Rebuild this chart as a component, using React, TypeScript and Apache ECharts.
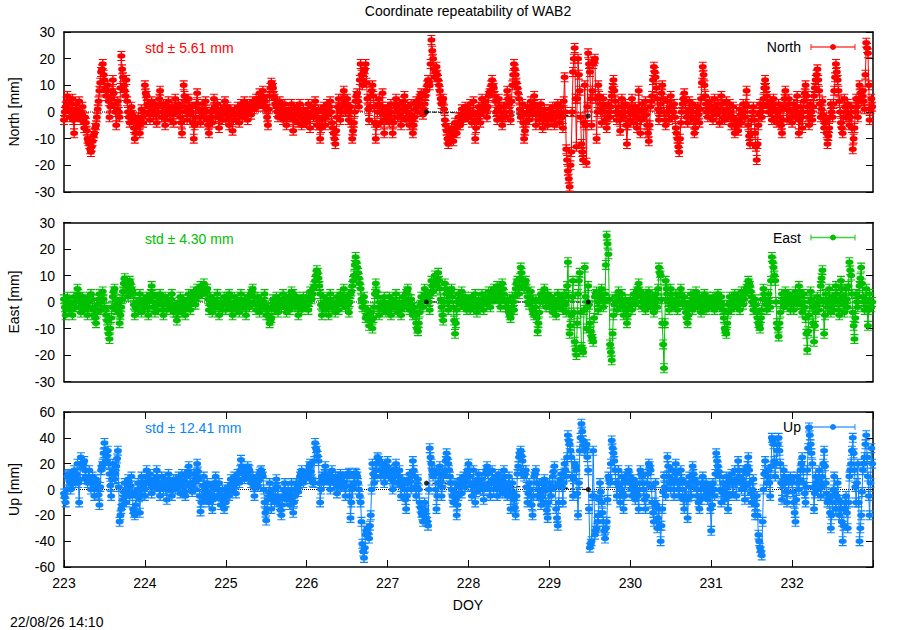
import React, { useEffect, useRef } from "react";
import * as echarts from "echarts";

const FONT = '"Liberation Sans", Arial, Helvetica, sans-serif';

const FIRST_DAY = 223;
const LAST_DAY = 233;
const SAMPLES_PER_DAY = 48;

const chartTitle = "Coordinate repeatability of WAB2";
const xTitle = "DOY";
const timestamp = "22/08/26 14:10";

// North [mm], one row per day (DOY 223..232): epochs at k/48 of the day
const northByDay: number[][] = [
  [-3, 2, 6, 4, 0, 5, -8, 3, 0, 4, -3, 2, -6, -4, -10, -12, -15, -11, -8, -5, 1, 8, 15, 18, 12, 6, 10, -2, 5, 12, 3, -5, 4, -2, 21, 13, 8, 12, 0, -4, 2, -3, -10, -6, -2, -8, 1, -4],
  [10, 6, 2, -3, 4, -1, 3, -4, 2, 8, -2, 3, -5, 1, 4, -3, 2, -4, 5, 0, 3, -2, -8, 10, 4, -3, 5, -1, 2, -10, -2, 7, 1, -4, 3, -2, 4, -3, -8, 0, -4, 5, -2, 3, -6, 1, -3, 2],
  [-3, 2, -5, 1, -7, 0, -3, 2, -4, 3, -2, 4, 0, -3, 3, -1, 4, 1, 5, 2, 7, 3, 8, 4, 1, -5, 6, 11, 9, 5, 2, -2, 4, 0, -3, 3, -5, 1, -2, 3, -7, -1, 2, -4, 3, -5, 1, -3],
  [-4, 3, -6, 2, -2, 4, -5, 1, -10, -3, 2, -5, 3, -1, 4, -4, -8, -12, -2, 5, -3, 2, 8, 0, 5, -3, 2, -10, -4, 4, 7, 2, 18, 10, 15, 18, 5, -3, 6, 10, 2, -10, 0, 5, -4, 7, -8, 1],
  [2, -4, 3, -8, 0, 5, -2, 3, -5, 1, 6, -3, 2, -5, 3, -8, -2, 4, 0, 5, 7, -1, 3, 8, 12, 10, 27, 20, 13, 17, 12, 8, 3, 5, -3, -7, -12, -10, -6, -11, -4, -8, -2, -5, 1, -3, 2, -1],
  [-2, 3, -4, 4, -10, -3, 2, -4, 5, 0, 4, -2, 6, 8, 12, 9, 4, -3, 5, 0, -5, 2, -2, 8, 3, -3, 10, 18, 14, 9, 5, -2, 3, -10, -4, 2, -3, 4, -1, 6, -5, 2, -3, 3, -6, 1, -2, -5],
  [1, -3, 2, -5, 0, 3, -4, 2, -6, 13, -14, -22, -28, -15, 15, 24, -13, 20, 8, -12, -18, 10, -19, 22, 15, -5, 18, 20, -10, 10, 3, -4, 5, 0, -6, 3, -2, 6, 12, 4, -3, 2, -7, 5, -2, 3, -12, 2],
  [-3, 5, -4, 2, -6, 8, -8, 3, -2, 4, -5, -11, 2, 6, 17, 13, 5, -3, 3, 10, 0, -5, 4, -3, 6, -2, 3, -6, -10, -15, -4, 3, 7, 0, -4, 4, -2, 3, -8, -3, 2, -4, 5, 17, 10, 3, -2, 4],
  [2, -3, 5, -1, 3, -4, 6, 0, -3, 4, -2, 3, -5, 2, -8, -3, -7, 1, -4, 3, -2, 8, -5, -12, -3, 2, -8, -18, -5, 3, -2, 5, 12, 6, 0, 4, -3, 5, 1, -4, 3, -2, -8, 2, 8, -3, 5, 0],
  [-4, 3, -2, 6, -8, 2, -6, 4, 10, 2, -5, 3, -3, 6, 12, 16, 8, -2, 4, -6, -3, -12, -6, 3, -2, 8, 18, 12, 4, -4, -8, 5, -2, 3, -5, 2, -14, -6, 5, -2, 10, 4, 8, 1, 26, 22, -3, 5],
];
// North [mm], in-between epochs at (k + 0.5)/48 of the day
const northMidByDay: number[][] = [
  [0, 4, 1, -2, 3, -3, -1, 1, -2, 0, -1, -3, -2, -7, -11, -14, -13, -9, -6, -2, 4, 11, 16, 14, 9, 8, 4, 2, 8, 7, 0, 1, 0, 9, 16, 10, 6, 4, -2, 0, -1, -6, -8, -4, -5, -3, -2, 0],
  [7, 3, -1, 0, 1, 2, -1, 0, 5, 3, 0, -2, -1, 2, 0, 0, -1, 1, 2, 1, 0, -4, 2, 6, 0, 1, 2, 0, -4, -5, 3, 3, -2, 0, 0, 1, 0, -5, -3, -2, 1, 2, 0, -2, -2, -1, 0, 4],
  [0, -2, -1, -3, -3, -1, 0, -1, 0, 1, 1, 2, -1, 0, 1, 2, 2, 3, 3, 5, 4, 6, 5, 2, -2, 1, 9, 10, 6, 3, 0, 1, 2, -1, 0, -1, -2, 0, 1, -2, -3, 1, -1, 0, -1, -2, -1, -4],
  [0, -2, -1, 0, 1, 0, -2, -5, -6, 0, -2, -1, 1, 2, 0, -6, -10, -7, 2, 1, 0, 5, 4, 3, 1, 0, -4, -7, 0, 6, 4, 12, 14, 12, 16, 11, 1, 2, 8, 6, -4, -5, 3, 0, 2, -1, -3, -2],
  [-1, 0, -3, -4, 3, 2, 1, -1, -2, 4, 2, 0, -2, -1, -3, -5, 1, 2, 3, 6, 3, 1, 6, 10, 11, 18, 23, 16, 15, 14, 10, 5, 4, 1, -5, -10, -11, -8, -9, -7, -6, -5, -4, -2, -1, 0, 1, -2],
  [0, -1, 0, -3, -6, -1, -1, 1, 2, 2, 1, 2, 7, 10, 10, 6, 0, 1, 2, -2, -2, 0, 3, 5, 0, 4, 14, 16, 11, 7, 1, 0, -4, -7, -1, 0, 1, 2, 3, 0, -1, 0, 0, -2, -3, -1, -3, -1],
  [-1, 0, -2, -2, 2, 0, -1, -2, 4, 0, -18, -25, -20, 0, 20, 5, 5, 14, -2, -15, -4, -5, 2, 18, 5, 8, 19, 5, 0, 6, 0, 1, 2, -3, -2, 0, 2, 9, 8, 0, 0, -3, -1, 2, 0, -5, -5, 0],
  [1, 0, -1, -2, 1, 0, -3, 0, 1, -1, -8, -5, 4, 12, 15, 9, 1, 0, 7, 5, -3, 0, 0, 2, 2, 0, -2, -8, -13, -10, 0, 5, 4, -2, 0, 1, 0, -3, -6, 0, -1, 1, 11, 14, 6, 0, 1, 1],
  [0, 1, 2, 1, 0, 1, 3, -2, 0, 1, 0, -1, -2, -3, -5, -5, -3, -1, 0, 0, 3, 2, -9, -8, 0, -3, -13, -12, -1, 0, 2, 9, 9, 3, 2, 0, 1, 3, -2, 0, 1, -5, -3, 5, 2, 1, 3, -2],
  [0, 1, 2, -1, -3, -2, 0, 7, 6, -2, 0, 0, 2, 9, 14, 12, 3, 1, -1, -4, -8, -9, -2, 0, 3, 13, 15, 8, 0, -6, -2, 2, 0, -1, -2, -6, -10, 0, 2, 4, 7, 6, 4, 14, 24, 10, 1, 2],
];

// East [mm]
const eastByDay: number[][] = [
  [1, -5, 2, -3, 0, -5, 2, -2, 5, 1, -4, 2, -3, 1, -5, 0, 3, -2, -5, -8, -1, 3, -3, 4, -2, -5, -10, -14, -6, 2, 5, -3, 0, -8, -2, 4, 9, 6, 2, 8, 5, 3, -5, 0, -3, 3, -4, 1],
  [-2, 2, -5, 1, 6, 0, -4, 2, -3, 3, -1, -5, 2, -3, 1, -2, 3, -4, -1, -7, -2, 2, -4, 1, -5, 0, 3, -3, 2, 4, -1, 5, 2, 6, 3, 7, 4, 5, -3, 2, -4, 1, -2, 3, -5, 0, -3, 2],
  [-3, 1, 3, -2, -5, 2, -3, 1, -4, 3, -2, 1, -5, 2, -2, 3, 5, 0, -3, 2, -4, 1, -2, 3, -5, -2, -8, -6, 1, -3, 2, -4, 1, -2, 3, -1, -4, 2, -3, 4, 3, -2, 2, -5, 1, -3, 2, -1],
  [2, -3, 4, 1, 5, 8, 12, 9, 3, -5, 2, -3, 1, -5, 3, -2, 0, -4, 2, -3, 3, -1, 5, -2, 2, -4, 3, 6, 10, 17, 13, 9, 5, -2, 2, -6, -3, -9, -4, -10, -2, 7, 2, -5, 0, -3, 2, -4],
  [-3, 2, -5, 1, -2, 3, -4, 0, -5, 2, -2, 3, 5, -3, 1, -5, -2, -8, -11, -4, 2, -2, 5, 1, 3, -3, 8, 4, 10, 6, 11, 5, -2, -7, 7, 3, -3, 2, 5, -2, -12, -3, 3, -1, 4, -2, 2, -3],
  [1, -3, 2, -2, 3, -4, 1, -2, 3, -3, 2, -1, 4, -2, 3, 5, 1, 6, 2, -2, 7, 3, -2, 1, -4, -6, 2, -3, 5, 8, 3, 13, 8, 5, 8, 2, -1, 4, -3, -5, 1, -11, -4, 3, 0, 5, -2, 3],
  [-2, 2, -4, 1, -5, 3, -2, 2, -3, 3, -4, 15, -12, -5, 8, -15, -20, 3, 11, -17, -19, 13, -10, 6, -8, -13, -15, 2, 4, -3, 2, 5, -2, 3, 25, 18, -16, -22, -5, 2, -3, 4, -2, 3, -5, 1, -8, -2],
  [1, -3, 3, -1, 4, 7, 2, -2, 3, -3, 1, 4, -2, 2, -4, 3, -2, 13, 10, -8, -25, 8, 3, -3, 5, 1, -2, 3, -3, 2, 5, -1, 2, -4, -8, -2, 3, -3, 1, 4, -2, 2, -4, 1, 3, -3, 2, -1],
  [-2, 2, -3, 1, 3, -2, 2, -3, -10, -12, -4, 2, -3, 1, 3, -2, 2, -3, 4, -1, 3, 5, 8, 6, 2, -3, 1, -4, -8, -10, -3, 5, 1, -3, 3, -2, 17, 13, 8, -8, -13, -4, 3, -2, 4, -1, 3, -3],
  [2, -3, 4, -1, 6, 2, -4, 3, -6, -18, -5, 4, -2, -15, -4, 2, -3, 6, 12, -12, 3, -2, 5, -4, 2, -3, 6, 0, -5, 8, 2, -4, 5, -2, 15, 10, -4, -14, 3, -2, 6, 13, 2, -3, 5, -9, 3, -2],
];
const eastMidByDay: number[][] = [
  [-2, -1, 0, -1, -3, -1, 0, 2, 3, -2, -1, 0, -1, -2, -2, 2, 1, -3, -6, -4, 1, 0, 1, 1, -3, -7, -12, -10, -2, 4, 1, -1, -4, -5, 1, 7, 8, 4, 5, 7, 4, -1, -2, -1, 0, 0, -1, -2],
  [0, -2, -2, 3, 3, -2, -1, 0, 0, 1, -3, -1, 0, -1, 0, 1, -1, -2, -4, -4, 0, -1, -2, -2, -2, 1, 0, -1, 3, 1, 2, 3, 4, 4, 5, 5, 4, 1, -1, -1, -1, 0, 0, -1, -2, -1, -1, 0],
  [-1, 2, 0, -3, -1, -1, -1, -1, 0, 0, -1, -2, -1, 0, 0, 4, 2, -1, 0, -1, -1, 0, 0, -1, -3, -5, -7, -2, -1, 0, -1, -1, -1, 1, 1, -2, -1, -1, 1, 3, 0, 0, -1, -2, -1, 0, 0, -2],
  [-1, 0, 2, 3, 6, 10, 11, 6, -1, -2, -1, -1, -2, -1, 0, -1, -2, -1, 0, 0, 1, 2, 1, 0, -1, 0, 4, 8, 14, 15, 11, 7, 1, 0, -2, -5, -6, -6, -7, -6, 3, 4, -2, -2, -2, 0, -1, -2],
  [-1, -2, -2, -1, 0, -1, -2, -3, -2, 0, 0, 4, 1, -1, -2, -4, -5, -10, -8, -1, 0, 2, 3, 2, 0, 3, 6, 7, 8, 9, 8, 1, -5, 0, 5, 0, 0, 4, 2, -7, -8, 0, 1, 2, 1, 0, -1, -1],
  [-1, 0, 0, 1, -1, -1, 0, 1, 0, 0, 1, 2, 1, 1, 4, 3, 4, 4, 0, 3, 5, 1, 0, -2, -5, -2, 0, 2, 7, 5, 9, 11, 6, 7, 5, 0, 2, 0, -4, -2, -6, -8, 0, 2, 3, 2, 1, 0],
  [0, -1, -1, -2, -1, 0, 0, 0, 0, -1, 6, 2, -9, 2, -4, -18, -8, 8, -4, -18, -3, 2, -2, -1, -11, -14, -6, 3, 0, 0, 3, 1, 0, 14, 22, 1, -19, -12, -1, 0, 1, 1, 0, -1, -2, -3, -5, 0],
  [-1, 0, 1, 2, 5, 4, 0, 0, 0, -1, 2, 1, 0, -1, 0, 1, 5, 11, 1, -16, -8, 5, 0, 1, 3, -1, 0, 0, -1, 3, 2, 0, -1, -6, -5, 0, 0, -1, 2, 1, 0, -1, -2, 2, 0, -1, 0, 0],
  [0, -1, -1, 2, 0, 0, -1, -6, -11, -8, -1, 0, -1, 2, 0, 0, -1, 0, 1, 1, 4, 6, 7, 4, 0, -1, -1, -6, -9, -6, 1, 3, -1, 0, 0, 8, 15, 10, 0, -10, -8, 0, 0, 1, 1, 1, 0, -1],
  [0, 0, 1, 2, 4, -1, 0, -2, -12, -11, 0, 1, -8, -9, -1, 0, 1, 9, 0, -5, 0, 1, 0, -1, 0, 1, 3, -3, 1, 5, -1, 0, 1, 6, 12, 3, -9, -6, 0, 2, 9, 7, 0, 1, -2, -3, 0, 0],
];

// Up [mm]
const upByDay: number[][] = [
  [-3, -10, 10, 12, 0, 8, 15, 5, 20, -10, 25, 18, 22, 10, 5, 15, 0, 10, -5, 8, 3, -12, 15, 20, 36, 22, 30, 12, -5, 20, 8, 18, 30, -25, -15, -8, 5, -10, 8, -5, 10, -15, -20, -5, 5, -18, 10, 2],
  [-5, 15, 5, 12, -3, 8, 2, 15, 5, -5, 10, 0, 8, -8, 12, 3, -5, 8, 0, 5, 10, -3, 12, 2, -5, 10, 18, 5, -2, 12, 0, 20, 8, -17, -5, 10, -8, 5, -10, 3, -15, 0, 10, -5, 5, -12, 0, -15],
  [-10, 2, -5, 8, 0, 10, -3, 12, 5, 23, 15, 8, 12, 18, 15, 5, 10, -5, 8, 2, 12, 15, 10, -10, -24, -8, 5, -15, 0, -10, 8, -5, -12, -20, -5, 5, -8, 0, -12, 5, -18, -5, 5, -2, 10, 15, 5, 12],
  [10, 15, 20, 8, 5, 36, 30, 22, -10, 10, 5, 18, 8, 12, 0, 15, 5, 10, -3, 8, 12, 2, 10, -5, 10, 13, -22, 0, 5, 13, 10, 0, -10, -42, -53, -35, -30, -38, -20, 20, 5, 15, 25, 22, 10, 20, 5, 15],
  [22, 10, 15, 0, 12, 20, 5, 15, -5, 8, 0, -15, 5, 12, 0, 22, 10, -5, 8, -10, -18, -25, -10, -22, -28, 32, 20, 10, 15, -15, 5, 18, -5, 10, 15, 28, 20, 10, 0, -10, 5, -20, -5, 8, -3, 10, 2, 12],
  [20, 10, -5, 15, -10, 5, 12, 0, 8, -8, 12, 18, 5, -5, 15, 0, 10, -5, 12, 3, -3, 15, 5, -5, 10, -15, 5, -8, -20, 12, 25, 30, 22, 10, 15, -10, 5, -5, -20, 10, 15, -5, 5, -12, 0, 8, -10, -22],
  [5, -5, 10, 18, -15, -28, 5, 12, -10, 20, 10, 42, 35, 25, -5, 20, 15, -20, 30, 51, 38, 30, 35, 15, -45, -40, 30, -35, -30, -20, 5, -10, -25, -38, -25, 10, 5, 38, 28, 15, -5, 15, -10, 10, -15, 5, 10, 15],
  [5, -5, 8, -8, 5, -15, 15, 10, 0, -15, 5, 20, 15, -10, -25, 5, -30, -15, -40, -15, 10, -5, 25, 10, 0, 15, -5, 20, 5, -5, 15, 0, -15, 5, -22, 10, -5, 18, 8, 5, -5, -15, 0, 10, -5, 5, -8, 3],
  [-32, 5, -5, 28, 18, 10, -10, 5, -8, 10, -15, 5, 12, -3, 15, -5, 22, 10, 0, 15, -8, 12, 25, 5, -10, 8, -20, -5, -35, -45, -51, 0, 22, 5, 15, -5, 40, 35, 10, 30, 40, 20, -8, 15, 5, -10, 5, 10],
  [5, -10, -25, 10, 0, 15, 25, 5, -10, 15, 48, 35, 20, -15, 10, 0, 15, -5, 10, 30, 5, -10, -5, -30, -10, 10, -15, 5, -20, -10, -40, -15, -5, -30, 10, 20, 40, 15, -10, 20, -40, -20, 15, 25, 42, 10, -20, 32],
];
const upMidByDay: number[][] = [
  [-6, 0, 11, 6, 4, 12, 10, 12, 5, 8, 20, 20, 15, 8, 10, 8, 5, 2, 2, 5, -4, 2, 18, 28, 28, 26, 20, 3, 8, 14, 12, 24, 2, -20, -12, -2, -3, 0, 2, 3, -3, -18, -12, 0, -6, -4, 6, 0],
  [5, 10, 8, 4, 3, 5, 8, 10, 0, 3, 5, 4, 0, 2, 8, -1, 2, 4, 3, 8, 4, 5, 7, -2, 3, 14, 12, 2, 5, 6, 10, 14, -5, -10, 3, 1, -2, -3, -4, -6, -8, 5, 3, 0, -4, -6, -8, -10],
  [-4, -2, 2, 4, 5, 4, 5, 8, 15, 18, 12, 10, 15, 16, 10, 8, 2, 2, 5, 7, 14, 12, 0, -18, -15, -2, -5, -8, -5, 0, 2, -8, -16, -12, 0, -2, -4, -6, -4, -6, -10, 0, 2, 4, 12, 10, 8, 12],
  [12, 18, 14, 6, 22, 32, 26, 5, 0, 8, 12, 12, 10, 5, 8, 10, 8, 4, 3, 10, 6, 6, 2, 3, 12, -5, -10, 3, 10, 12, 5, -5, -25, -48, -45, -32, -34, -28, 0, 12, 10, 20, 24, 15, 15, 12, 10, 18],
  [15, 12, 8, 6, 16, 12, 10, 5, 2, 4, -8, -5, 8, 6, 12, 15, 2, 2, 0, -14, -20, -18, -16, -25, 0, 25, 15, 12, 0, -5, 12, 6, 2, 12, 22, 24, 15, 5, -5, -2, -8, -12, 2, 2, 4, 6, 8, 15],
  [15, 3, 5, 2, -2, 8, 6, 4, 0, 2, 15, 12, 0, 5, 8, 5, 3, 4, 8, 0, 6, 10, 0, 2, -3, -5, -2, -14, -5, 18, 28, 26, 15, 12, 2, -3, 0, -12, -5, 12, 5, 0, -4, -6, 4, -1, -16, -10],
  [0, 3, 14, 2, -22, -10, 8, 2, 5, 15, 25, 38, 30, 10, 8, 18, -3, 5, 40, 45, 34, 32, 25, -15, -42, -5, -5, -32, -25, -8, -2, -18, -32, -30, -8, 8, 20, 32, 22, 5, 5, 2, 0, -3, -5, 8, 12, 10],
  [0, 2, 0, -2, -5, 0, 12, 5, -8, -5, 12, 18, 2, -18, -10, -12, -22, -28, -28, -2, 2, 10, 18, 5, 8, 5, 8, 12, 0, 5, 8, -8, -5, -8, -6, 2, 6, 12, 6, 0, -10, -8, 5, 2, 0, -2, -3, -15],
  [-12, 0, 12, 22, 14, 0, -2, -2, 2, -3, -5, 8, 5, 6, 5, 8, 15, 5, 8, 2, 3, 18, 15, -3, 0, -6, -12, -20, -40, -48, -25, 12, 14, 10, 5, 18, 38, 22, 20, 35, 30, 5, 4, 10, -2, -2, 8, 8],
  [-2, -18, -8, 5, 8, 20, 15, -3, 2, 32, 42, 28, 2, -3, 5, 8, 5, 2, 20, 18, -3, -8, -18, -20, 0, -3, -5, -8, -15, -25, -28, -10, -18, -10, 15, 30, 28, 2, 5, -10, -30, -2, 20, 35, 25, -5, 5, 20],
];

// excluded / reference epochs drawn in black
const refTimes = [227.48, 229.48];
const refNorth = [0, -1.5];
const refEast = [0, 0];
const refUp = [5, 0];

const panelNames = ["North", "East", "Up"];
const stdLabels = ["std \u00b1 5.61 mm", "std \u00b1 4.30 mm", "std \u00b1 12.41 mm"];
const yMins = [-30, -30, -60];
const yMaxs = [30, 30, 60];
const ySteps = [10, 10, 20];

// layout / styles
const colors = ["#ff0000", "#00c000", "#0a84ff"];
const gridTops = [32, 222.5, 412];
const gridHeights = [160, 159, 155];
const GRID_LEFT = 64;
const GRID_WIDTH = 809;

// point with a small y error bar (filled circle, vertical bar, two caps)
const ERRBAR_SYMBOL =
  "path://M2,5.5 A3,3 0 1,1 8,5.5 A3,3 0 1,1 2,5.5 Z M4.5,0 H5.5 V11 H4.5 Z M2,0 H8 V1.2 H2 Z M2,9.8 H8 V11 H2 Z";

function toPoints(byDay: number[][], midByDay: number[][]) {
  const pts: number[][] = [];
  byDay.forEach((vals, d) => {
    vals.forEach((v, k) => {
      pts.push([FIRST_DAY + d + k / SAMPLES_PER_DAY, v]);
      pts.push([FIRST_DAY + d + (k + 0.5) / SAMPLES_PER_DAY, midByDay[d][k]]);
    });
  });
  return pts;
}

export default function App() {
  const ref = useRef<HTMLDivElement>(null);

  useEffect(() => {
    if (!ref.current) return;
    const chart = echarts.init(ref.current, undefined, { renderer: "svg" });
    const seriesValues = [northByDay, eastByDay, upByDay];
    const midValues = [northMidByDay, eastMidByDay, upMidByDay];
    const refValues = [refNorth, refEast, refUp];

    const mkX = (i: number, position: string, labels: boolean, ticks: boolean) => ({
      type: "value",
      gridIndex: i,
      position,
      min: FIRST_DAY,
      max: LAST_DAY,
      interval: 1,
      axisLine: { show: true, onZero: false, lineStyle: { color: "#000", width: 1.5 } },
      axisTick: { show: ticks, inside: true, length: 7, lineStyle: { color: "#000", width: 1 } },
      axisLabel: {
        show: labels,
        margin: 9,
        color: "#000",
        fontSize: 14,
        fontFamily: FONT,
        formatter: (v: number) => (v === LAST_DAY ? "" : String(v)),
      },
      splitLine: { show: false },
    });
    const mkY = (i: number, position: string, labels: boolean) => ({
      type: "value",
      gridIndex: i,
      position,
      min: yMins[i],
      max: yMaxs[i],
      interval: ySteps[i],
      axisLine: { show: true, onZero: false, lineStyle: { color: "#000", width: 1.5 } },
      axisTick: { show: true, inside: true, length: 7, lineStyle: { color: "#000", width: 1 } },
      axisLabel: { show: labels, margin: 9, color: "#000", fontSize: 14, fontFamily: FONT },
      splitLine: { show: false },
    });

    const series: any[] = [];
    const graphics: any[] = [];
    const font = `14px ${FONT}`;
    for (let i = 0; i < 3; i++) {
      const refPts = refTimes.map((t, j) => [t, refValues[i][j]]);
      // dotted zero axis (below the data)
      series.push({
        type: "line",
        xAxisIndex: 2 * i,
        yAxisIndex: 2 * i,
        data: [
          [FIRST_DAY, 0],
          [LAST_DAY, 0],
        ],
        symbol: "none",
        silent: true,
        z: 1,
        lineStyle: { color: "#000", type: "dotted", width: 1 },
      });
      // black reference line (below the data)
      series.push({
        type: "line",
        xAxisIndex: 2 * i,
        yAxisIndex: 2 * i,
        data: refPts,
        symbol: "none",
        silent: true,
        z: 1,
        lineStyle: { color: "#000", width: 1, type: "dashed" },
      });
      series.push({
        type: "line",
        name: panelNames[i],
        xAxisIndex: 2 * i,
        yAxisIndex: 2 * i,
        data: toPoints(seriesValues[i], midValues[i]),
        symbol: ERRBAR_SYMBOL,
        symbolSize: [8, 10],
        showSymbol: true,
        silent: true,
        z: 2,
        lineStyle: { color: colors[i], width: 1 },
        itemStyle: { color: colors[i] },
      });
      // black reference points (above the data)
      series.push({
        type: "scatter",
        xAxisIndex: 2 * i,
        yAxisIndex: 2 * i,
        data: refPts,
        symbol: "circle",
        symbolSize: 5,
        silent: true,
        z: 3,
        itemStyle: { color: "#000" },
      });

      const ly = gridTops[i] + 15;
      graphics.push(
        {
          type: "text",
          x: 145,
          y: gridTops[i] + 16,
          z: 10,
          style: { text: stdLabels[i], fill: colors[i], font, textAlign: "left", textVerticalAlign: "middle" },
        },
        {
          type: "text",
          x: 801,
          y: ly,
          z: 10,
          style: { text: panelNames[i], fill: "#000", font, textAlign: "right", textVerticalAlign: "middle" },
        },
        { type: "line", z: 10, shape: { x1: 811, y1: ly, x2: 855, y2: ly }, style: { stroke: colors[i], lineWidth: 1.5, opacity: 0.75 } },
        { type: "line", z: 10, shape: { x1: 811, y1: ly - 3, x2: 811, y2: ly + 3 }, style: { stroke: colors[i], lineWidth: 1.2, opacity: 0.75 } },
        { type: "line", z: 10, shape: { x1: 855, y1: ly - 3, x2: 855, y2: ly + 3 }, style: { stroke: colors[i], lineWidth: 1.2, opacity: 0.75 } },
        { type: "circle", z: 10, shape: { cx: 833, cy: ly, r: 3 }, style: { fill: colors[i] } },
        {
          type: "text",
          x: 14,
          y: gridTops[i] + gridHeights[i] / 2,
          rotation: Math.PI / 2,
          z: 10,
          style: { text: `${panelNames[i]} [mm]`, fill: "#000", font, textAlign: "center", textVerticalAlign: "middle" },
        }
      );
    }
    graphics.push(
      {
        type: "text",
        x: 468,
        y: 11,
        style: { text: chartTitle, fill: "#000", font, textAlign: "center", textVerticalAlign: "middle" },
      },
      {
        type: "text",
        x: 468,
        y: 605,
        style: { text: xTitle, fill: "#000", font, textAlign: "center", textVerticalAlign: "middle" },
      },
      {
        type: "text",
        x: 10,
        y: 622,
        style: { text: timestamp, fill: "#000", font, textAlign: "left", textVerticalAlign: "middle" },
      }
    );

    const option: any = {
      animation: false,
      backgroundColor: "#ffffff",
      textStyle: { fontFamily: FONT },
      grid: gridTops.map((t, i) => ({ left: GRID_LEFT, top: t, width: GRID_WIDTH, height: gridHeights[i] })),
      xAxis: [0, 1, 2].flatMap((i) => [mkX(i, "bottom", i === 2, i === 2), mkX(i, "top", false, i === 2)]),
      yAxis: [0, 1, 2].flatMap((i) => [mkY(i, "left", true), mkY(i, "right", false)]),
      series,
      graphic: { elements: graphics },
    };
    chart.setOption(option);
    return () => chart.dispose();
  }, []);

  return (
    <div
      ref={ref}
      style={{ position: "absolute", left: 0, top: 0, width: 900, height: 630, background: "#fff" }}
    />
  );
}
